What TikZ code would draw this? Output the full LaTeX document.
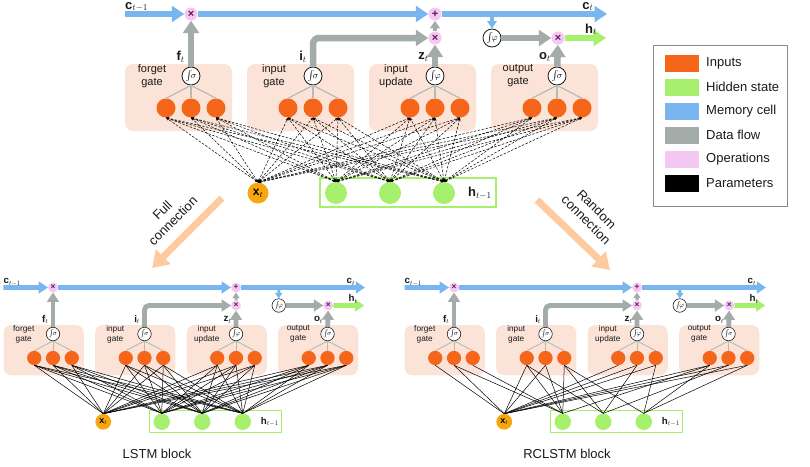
\documentclass[tikz,border=0pt]{standalone}
\usepackage{fontspec}
\setmainfont{Liberation Sans}
\usetikzlibrary{arrows.meta}
\definecolor{ink}{HTML}{1A1A1A}
\definecolor{inorange}{HTML}{F5651A}
\definecolor{xamber}{HTML}{F6A70F}
\definecolor{hgreen}{HTML}{A6F06D}
\definecolor{memblue}{HTML}{79B6EF}
\definecolor{flowgray}{HTML}{A3ACA9}
\definecolor{oppink}{HTML}{F5C7F3}
\definecolor{opink}{HTML}{5A1A50}
\definecolor{gatefill}{HTML}{FBE3D7}
\definecolor{bigpeach}{HTML}{FDCB9F}
\definecolor{treegray}{HTML}{B3BBB8}
\definecolor{framegray}{HTML}{8A8A8A}

\newcommand{\blk}{1}
\tikzset{
  gatebox/.style={fill=gatefill,rounded corners=8pt,minimum width=107pt,minimum height=67pt,inner sep=0pt},
  gatetext/.style={font=\fontsize{11}{13}\selectfont,align=center,text=ink,inner sep=0pt},
  act/.style={circle,draw=ink,fill=white,line width=\blk*0.8pt,minimum size=18pt,inner sep=0pt,font=\fontsize{9}{9}\selectfont},
  unit/.style={circle,fill=inorange,minimum size=19pt,inner sep=0pt},
  hunit/.style={circle,fill=hgreen,minimum size=22pt,inner sep=0pt},
  xunit/.style={circle,fill=xamber,minimum size=21pt,inner sep=0pt,font=\fontsize{12}{12}\selectfont},
  hbox/.style={draw=hgreen,line width=\blk*1.6pt,minimum width=176pt,minimum height=29pt,inner sep=0pt},
  op/.style={circle,fill=oppink,minimum size=13pt,inner sep=0pt,text=opink,font=\fontsize{11}{11}\selectfont\bfseries},
  lab/.style={font=\fontsize{13}{13}\selectfont,text=ink,inner sep=0pt},
  cell/.style={draw=memblue,line width=\blk*6.5pt,-{Triangle[length=0pt 1.9,width=0pt 2.4]}},
  flow/.style={cell,draw=flowgray},
  hid/.style={cell,draw=hgreen},
  tree/.style={draw=treegray,line width=\blk*1.2pt},
  param/.style={draw=black,line width=.5pt},
  dashparam/.style={param,dash pattern=on 2.5pt off 1.5pt,{Stealth[length=3pt,width=2.5pt]}-{Stealth[length=3pt,width=2.5pt]}},
  bigarrow/.style={draw=bigpeach,line width=7pt,-{Triangle[length=16pt,width=20pt]}},
  bigtext/.style={font=\fontsize{13}{15}\selectfont,align=center,text=ink,inner sep=0pt},
  swatch/.style={minimum width=34pt,minimum height=17pt,inner sep=0pt},
  legtext/.style={anchor=west,font=\fontsize{13}{13}\selectfont,text=ink,inner sep=0pt}
}

% one LSTM block: #1 name prefix, #2 position of the forget gate, #3 scale
\newcommand{\lstmblock}[3]{%
  \begin{scope}[shift={#2},scale=#3,transform shape]
    \def\blk{#3}
    % gates
    \foreach \k/\n/\txt/\actsym in {0/1/{forget\\gate}/\sigma,1/2/{input\\gate}/\sigma,2/3/{input\\update}/\varphi,3/4/{output\\gate}/\sigma}{
      \node[gatebox] (#1b\n) at (\k*122-12.5,-21.5) {};
      \node[gatetext] (#1l\n) at (\k*122-39,0) {\txt};
      \node[act] (#1s\n) at (\k*122,0) {$\int\!\!\actsym$};
      \foreach \j in {1,2,3}{
        \pgfmathtruncatemacro{\m}{3*\k+\j}
        \node[unit] (#1u\m) at (\k*122+\j*25-50,-32) {};
        \draw[tree] (#1s\n.south) -- (#1u\m.north);
      }
    }
    % inputs
    \node[hbox] (#1hb) at (217,-116.5) {};
    \node[xunit] (#1x) at (67,-117) {\textbf{x}$_t$};
    \foreach \j in {1,2,3} \node[hunit] (#1h\j) at (91+54*\j,-117) {};
    \node[lab] (#1hl) at (289,-117) {\textbf{h}$_{t-1}$};
    % memory cell and operations
    \coordinate (#1c0) at (-66,62);
    \coordinate (#1c1) at (416,62);
    \coordinate (#1cd) at (301,62);
    \coordinate (#1h0) at (415,38);
    \node[op] (#1m1) at (0,62) {×};
    \node[op] (#1pl) at (244,62) {+};
    \node[op] (#1m2) at (244,38) {×};
    \node[act] (#1g) at (301,38) {$\int\!\!\varphi$};
    \node[op] (#1m3) at (367,38) {×};
    \draw[cell] (#1c0) -- (#1m1);
    \draw[cell] (#1m1) -- (#1pl);
    \draw[cell] (#1pl) -- (#1c1);
    \draw[cell,line width=\blk*4pt] (#1cd) -- (#1g);
    \draw[flow] (#1s1) -- (#1m1);
    \draw[flow,rounded corners=\blk*6pt] (#1s2) |- (#1m2);
    \draw[flow] (#1s3) -- (#1m2);
    \draw[flow,line width=\blk*4pt] (#1m2) -- (#1pl);
    \draw[flow] (#1g) -- (#1m3);
    \draw[flow] (#1s4) -- (#1m3);
    \draw[hid] (#1m3) -- (#1h0);
    % labels
    \node[lab,anchor=base west] (#1lc0) at (-66,67) {\textbf{c}$_{t-1}$};
    \node[lab,anchor=base] (#1lc1) at (397,67) {\textbf{c}$_t$};
    \node[lab,anchor=south] (#1lh) at (400,41) {\textbf{h}$_t$};
    \node[lab,anchor=east] (#1lf) at (-6,19) {\textbf{f}$_t$};
    \node[lab,anchor=east] (#1li) at (116,19) {\textbf{i}$_t$};
    \node[lab,anchor=east] (#1lz) at (238,19) {\textbf{z}$_t$};
    \node[lab,anchor=east] (#1lo) at (360,19) {\textbf{o}$_t$};
  \end{scope}}

\begin{document}
\begin{tikzpicture}[x=1pt,y=1pt]
  \useasboundingbox (0,0) rectangle (810,-466);

  % top block with its dashed parameters
  \lstmblock{T}{(191,-76)}{1}
  \foreach \a in {x,h1,h2,h3}
    \foreach \b in {1,...,12}
      \draw[dashparam] (T\a.north) -- (Tu\b.south);

  % LSTM: full connection
  \lstmblock{L}{(53,-334)}{0.75}
  \foreach \a in {x,h1,h2,h3}
    \foreach \b in {1,...,12}
      \draw[param] (L\a.north) -- (Lu\b.south);

  % RCLSTM: random connection
  \lstmblock{R}{(454,-334)}{0.75}
  \foreach \a/\b in {x/1,x/2,x/4,x/5,x/7,x/8,x/9,x/10,x/11,x/12,
                     h1/2,h1/3,h1/4,h1/5,h1/6,h1/10,
                     h2/4,h2/6,h2/8,h2/11,
                     h3/6,h3/9,h3/10,h3/12}
    \draw[param] (R\a.north) -- (Ru\b.south);

  % big arrows
  \coordinate (fullA) at (222,-198);
  \coordinate (fullB) at (152,-268);
  \draw[bigarrow] (fullA) -- (fullB);
  \node[bigtext,rotate=45] (fullT) at (167.5,-215.5) {Full\\connection};
  \coordinate (randA) at (537,-200);
  \coordinate (randB) at (610,-270);
  \draw[bigarrow] (randA) -- (randB);
  \node[bigtext,rotate=-45] (randT) at (591.5,-214.5) {Random\\connection};

  \node[bigtext] (lstmT) at (157,-454) {LSTM block};
  \node[bigtext] (rcT) at (567,-454) {RCLSTM block};

  % legend
  \node[draw=framegray,line width=.8pt,minimum width=134pt,minimum height=161pt,inner sep=0pt] (legend) at (720,-125.5) {};
  \foreach \i/\c/\t in {1/inorange/Inputs,2/hgreen/Hidden state,3/memblue/Memory cell,
                        4/flowgray/Data flow,5/oppink/Operations,6/black/Parameters}{
    \node[swatch,fill=\c] (sw\i) at (682,-39-24*\i) {};
    \node[legtext] (lt\i) at (706,-39-24*\i) {\t};
  }
\end{tikzpicture}
\end{document}
